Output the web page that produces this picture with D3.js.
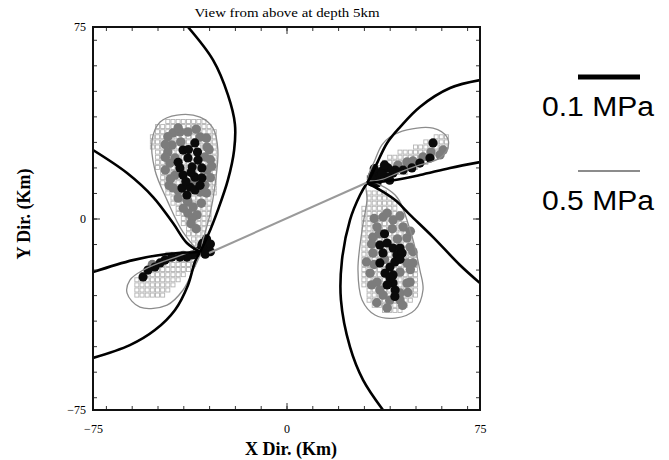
<!DOCTYPE html>
<html>
<head>
<meta charset="utf-8">
<script src="https://cdn.jsdelivr.net/npm/d3@7"></script>
<style>
  body { margin: 0; background: #fff; }
  .tick text { font-family: "Liberation Serif", "Times New Roman", serif; font-size: 12px; }
</style>
</head>
<body>
<svg id="chart" width="669" height="460"></svg>
<script>
// ---- data (km) ----
const xTicks = [-75, 0, 75];
const yTicks = [-75, 0, 75];
const minorTicks = d3.range(-70, 71, 10);

const faultTrace = [[-30, -13.5], [31, 14]];

// 0.1 MPa stress contours (thick black)
const contour01 = [
  [[-38.2, 75], [-28.5, 62.1], [-22.7, 48.4], [-20.0, 37], [-20.3, 26.8], [-22.7, 15.1], [-26.6, 3.3], [-30.4, -6.5], [-33.5, -13.1]],
  [[-75, 26.8], [-61.8, 17.8], [-51.7, 8.4], [-44.0, -1.8], [-38.6, -9.6], [-33.5, -13.1]],
  [[-75, -21], [-59.5, -16.3], [-46.3, -13.9], [-33.5, -13.1]],
  [[-33.5, -13.1], [-35.5, -17], [-38.2, -26.1], [-43.2, -35.8], [-51, -43.7], [-60.7, -49.6], [-75, -54.6]],
  [[37.4, -75], [29.7, -63.3], [24.6, -50.3], [21.1, -31.9], [21.5, -16.3], [24.6, -0.6], [28.5, 9.2], [31.2, 13.9]],
  [[75, -25.3], [67.2, -18.2], [56.8, -7.3], [47.9, 1.4], [42.1, 7.2], [36.2, 11.2], [31.2, 13.9]],
  [[75, 22.1], [63.4, 19.8], [51.7, 17.0], [42.1, 15.1], [31.2, 13.9]],
  [[75, 54.2], [63.4, 51.1], [51.7, 43.7], [44, 35.8], [39, 29.6], [35.1, 21.7], [32.4, 15.9], [31.2, 13.9]]
];

// 0.5 MPa stress contours (thin grey, closed)
const contour05 = [
  [[-33.5, -12.3], [-40.1, -5.3], [-46.3, 7.2], [-51, 19], [-52.1, 30.7], [-49, 37.8], [-42.4, 40.5], [-33.5, 39.7], [-28.5, 35.4], [-26.6, 26.8], [-27.7, 13.1], [-29.7, 1.4], [-32.4, -8.4]],
  [[-33.5, -12.7], [-44, -15.5], [-55.6, -20.2], [-60.7, -24.1], [-61.8, -29.2], [-56.8, -34.7], [-46.3, -33.9], [-40.1, -28], [-36.2, -20.2]],
  [[31.6, 15.1], [34.3, 22.9], [37, 28.8], [40.1, 31.9], [46.7, 34.7], [56.8, 35.4], [62.2, 31.9], [62.6, 28], [59.5, 23.7], [51.7, 21], [44, 18.2], [36.2, 15.1]],
  [[31.2, 14.3], [42.1, 9.2], [47.9, -4.5], [51.7, -20.2], [52.9, -28], [49.8, -35.8], [42.1, -39], [34.3, -37.8], [29.3, -31.9], [27.7, -20.2], [29.3, -4.5], [31.2, 7.2]]
];

// open squares: model grid cells, rows as [y, xFrom, xTo], 2 km grid
const squareRows = [
  [38, -46, -32], [36, -50, -30], [34, -50, -28], [32, -52, -28], [30, -52, -28], [28, -52, -28],
  [26, -50, -28], [24, -50, -28], [22, -50, -28], [20, -50, -28], [18, -48, -28], [16, -48, -28],
  [14, -48, -28], [12, -46, -28], [10, -46, -28], [8, -44, -30], [6, -44, -30], [4, -42, -30],
  [2, -42, -30], [0, -40, -30], [-2, -40, -30], [-4, -38, -32], [-6, -38, -32], [-8, -36, -32], [-10, -36, -32],
  [-14, -46, -34], [-16, -42, -36], [-18, -48, -36], [-20, -52, -38], [-22, -56, -40], [-24, -58, -42],
  [-26, -58, -44], [-28, -58, -46], [-30, -58, -48],
  [32, 58, 62], [30, 54, 62], [28, 50, 62], [26, 44, 60], [24, 40, 58], [22, 38, 54], [20, 36, 50], [18, 34, 46], [16, 32, 40],
  [10, 32, 38], [8, 32, 40], [6, 32, 42], [4, 30, 42], [2, 30, 44], [0, 30, 44], [-2, 30, 46], [-4, 30, 46],
  [-6, 30, 46], [-8, 30, 48], [-10, 30, 48], [-12, 30, 48], [-14, 30, 50], [-16, 30, 50], [-18, 30, 50],
  [-20, 30, 50], [-22, 30, 50], [-24, 30, 50], [-26, 30, 50], [-28, 32, 50], [-30, 32, 50], [-32, 32, 48],
  [-34, 34, 46], [-36, 38, 44]
];

const greyDots = [
  [-44.0, 33.5], [-38.2, 33.9], [-33.5, 31.9], [-30.8, 28.0], [-44.4, 28.8], [-41.3, 33.9], [-43.2, 23.7],
  [-45.2, 21.7], [-31.6, 24.1], [-30.8, 19.0], [-43.2, 17.0], [-31.6, 13.1], [-33.5, 10.4], [-38.2, 6.5],
  [-36.2, 4.5], [-38.2, 2.1], [-34.7, 1.4], [-36.6, 0.2], [-38.6, 7.2], [-46, 26], [-29.5, 23], [-42, 11],
  [-36, 14], [-41, 30], [-45.5, 13], [-40, -14.5], [-46, -15.5], [-52, -18],
  [-46, 32], [-42, 35.5], [-35, 35], [-31, 31.5], [-47, 29], [-47, 24], [-47, 19], [-45, 15.5], [-30, 27],
  [-29.5, 16], [-31, 10], [-42, 8], [-40, 4], [-33, 6], [-37, -2], [-35, -4], [-44, 12], [-29, 20.5],
  [60.7, 26.8], [59.5, 24.9], [52.9, 24.1], [46.7, 22.1], [43.2, 20.9], [56, 26], [49, 22.5],
  [37.4, 0.6], [41.3, -0.6], [35.1, -3.3], [45.2, -3.3], [33.5, -7.3], [46.7, -7.6], [47.9, -11.2],
  [33.5, -13.5], [46.7, -17.4], [32.4, -21.4], [46.7, -25.3], [35.1, -24.9], [36.2, -28.0], [37.4, -30.0],
  [44.0, -31.9], [47.9, -24.9], [49.0, -17.4], [39.0, 2.1], [44.0, -29.2], [41, -4], [38, -16], [44, -21],
  [34, 0], [44, 1], [48, -5], [33, -10], [31, -17], [34, -18], [49, -13], [48, -20], [33, -26], [47, -29],
  [40, -32], [35, -33], [45, -34], [43, -8], [36, -6], [39, -35]
];

const blackDots = [
  [-35.5, 29.6], [-40.1, 26.8], [-38.2, 23.7], [-34.3, 22.9], [-41.3, 19.8], [-36.6, 20.2], [-32.8, 19.8],
  [-40.1, 17.0], [-35.5, 16.2], [-32.8, 15.9], [-40.5, 11.9], [-37.4, 12.3], [-35.5, 11.2], [-38.6, 9.2],
  [-38, 27], [-37, 18], [-33.5, 13], [-39, 14.5], [-34.5, 26], [-42, 22],
  [-32.4, -9.6], [-30.8, -11.2], [-32.8, -10.4], [-33.5, -12.3], [-34.7, -13.1], [-36.6, -14.3], [-38.6, -15.1],
  [-41.3, -15.1], [-44.4, -15.1], [-47.1, -16.3], [-49.0, -17.4], [-51.0, -19.0], [-53.7, -20.2], [-55.6, -22.9],
  [-31, -8], [-29.5, -10], [-29.5, -13], [-31.5, -14],
  [56.8, 29.6], [55.6, 23.7], [51.7, 21.7], [48.6, 19.8], [45.2, 19.0], [42.1, 19.0], [39.3, 19.8], [37.4, 19.0],
  [35.5, 17.8], [33.5, 17.0], [36.2, 15.9], [33.1, 14.3], [35.1, 13.9], [39.0, 16.2], [41.3, 17.8],
  [33, 16], [37, 17.5], [40, 15], [34, 19.5], [38, 21],
  [36.2, -10.4], [39.0, -9.6], [41.3, -11.6], [44.0, -11.6], [37.4, -13.5], [42.8, -14.3], [36.2, -17.4],
  [40.1, -19.0], [38.2, -21.4], [41.3, -22.1], [41.3, -25.3], [42.1, -28.0], [40.1, -23.3], [44.8, -13.5],
  [38, -6], [42, -17], [39, -26], [44, -16], [42, -30.5]
];

const legendItems = [
  { label: "0.1 MPa", color: "#000", width: 5 },
  { label: "0.5 MPa", color: "#8c8c8c", width: 2 }
];

// ---- layout ----
const svg = d3.select("#chart");
const x = d3.scaleLinear().domain([-75, 75]).range([93, 480]);
const y = d3.scaleLinear().domain([-75, 75]).range([410, 27]);
const serif = '"Liberation Serif", "Times New Roman", serif';

// squares
const squares = [];
squareRows.forEach(([yy, a, b]) => {
  for (let xx = a; xx <= b; xx += 2) squares.push([xx, yy]);
});
svg.append("g").selectAll("rect").data(squares).join("rect")
  .attr("x", d => x(d[0]) - 2)
  .attr("y", d => y(d[1]) - 2)
  .attr("width", 4).attr("height", 4)
  .attr("fill", "#fff").attr("stroke", "#b4b4b4").attr("stroke-width", 0.9);

svg.append("g").selectAll("circle").data(greyDots).join("circle")
  .attr("cx", d => x(d[0])).attr("cy", d => y(d[1])).attr("r", 4.7)
  .attr("fill", "#7c7c7c");

svg.append("g").selectAll("circle").data(blackDots).join("circle")
  .attr("cx", d => x(d[0])).attr("cy", d => y(d[1])).attr("r", 4.6)
  .attr("fill", "#0a0a0a");

// contours
const openLine = d3.line().x(d => x(d[0])).y(d => y(d[1])).curve(d3.curveCatmullRom);
const closedLine = d3.line().x(d => x(d[0])).y(d => y(d[1])).curve(d3.curveCatmullRomClosed);

svg.append("g").selectAll("path").data(contour05).join("path")
  .attr("d", closedLine).attr("fill", "none")
  .attr("stroke", "#8c8c8c").attr("stroke-width", 1.3);

svg.append("clipPath").attr("id", "plotclip")
  .append("rect").attr("x", 93).attr("y", 27).attr("width", 387).attr("height", 383);

svg.append("g").attr("clip-path", "url(#plotclip)")
  .selectAll("path").data(contour01).join("path")
  .attr("d", openLine).attr("fill", "none")
  .attr("stroke", "#000").attr("stroke-width", 2.6);

// fault
svg.append("path").datum(faultTrace)
  .attr("d", d3.line().x(d => x(d[0])).y(d => y(d[1])))
  .attr("stroke", "#9a9a9a").attr("stroke-width", 2).attr("fill", "none");

// axes, ticks point inward
function addAxis(axis, tr, withLabels) {
  const g = svg.append("g").attr("transform", tr).call(axis);
  g.select(".domain").remove();
  if (!withLabels) g.selectAll("text").remove();
  return g;
}
addAxis(d3.axisBottom(x).tickValues(minorTicks).tickSize(-4).tickFormat(""), "translate(0,410)", false);
addAxis(d3.axisTop(x).tickValues(minorTicks).tickSize(-4).tickFormat(""), "translate(0,27)", false);
addAxis(d3.axisLeft(y).tickValues(minorTicks).tickSize(-4).tickFormat(""), "translate(93,0)", false);
addAxis(d3.axisRight(y).tickValues(minorTicks).tickSize(-4).tickFormat(""), "translate(480,0)", false);
addAxis(d3.axisBottom(x).tickValues(xTicks).tickSize(-7).tickPadding(14).tickFormat(d3.format("d")), "translate(0,410)", true);
addAxis(d3.axisLeft(y).tickValues(yTicks).tickSize(-7).tickPadding(7).tickFormat(d3.format("d")), "translate(93,0)", true);
addAxis(d3.axisTop(x).tickValues(xTicks).tickSize(-7).tickFormat(""), "translate(0,27)", false);
addAxis(d3.axisRight(y).tickValues(yTicks).tickSize(-7).tickFormat(""), "translate(480,0)", false);
svg.selectAll(".tick line").attr("stroke", "#333");

svg.append("rect").attr("x", 93).attr("y", 27).attr("width", 387).attr("height", 383)
  .attr("fill", "none").attr("stroke", "#111").attr("stroke-width", 2);

// titles
svg.append("text").attr("x", 287).attr("y", 17).attr("text-anchor", "middle")
  .attr("font-family", serif).attr("font-size", 13)
  .attr("textLength", 185).attr("lengthAdjust", "spacingAndGlyphs")
  .text("View from above at depth 5km");

svg.append("text").attr("x", 291).attr("y", 455).attr("text-anchor", "middle")
  .attr("font-family", serif).attr("font-size", 18).attr("font-weight", "bold")
  .text("X Dir. (Km)");

svg.append("text").attr("transform", "translate(30,214) rotate(-90)").attr("text-anchor", "middle")
  .attr("font-family", serif).attr("font-size", 18).attr("font-weight", "bold")
  .text("Y Dir. (Km)");

// legend
const legendY = [77, 171];
const lg = svg.append("g").selectAll("g").data(legendItems).join("g")
  .attr("transform", (d, i) => `translate(0,${legendY[i]})`);
lg.append("line").attr("x1", 578).attr("x2", 640).attr("y1", 0).attr("y2", 0)
  .attr("stroke", d => d.color).attr("stroke-width", d => d.width);
lg.append("text").attr("x", 542).attr("y", 39)
  .attr("font-family", '"Liberation Sans", Arial, sans-serif').attr("font-size", 27)
  .attr("textLength", 112).attr("lengthAdjust", "spacingAndGlyphs")
  .text(d => d.label);
</script>
</body>
</html>
